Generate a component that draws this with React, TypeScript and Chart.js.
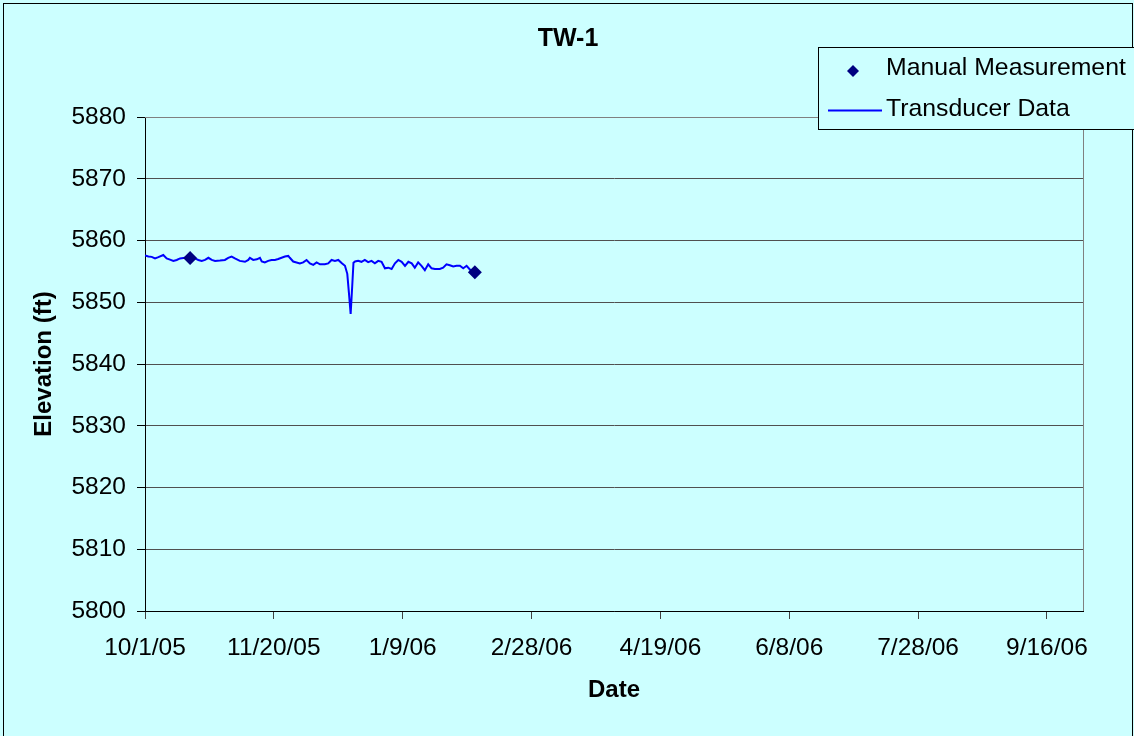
import React, { useEffect, useRef } from "react";
import { Chart, registerables } from "chart.js";

Chart.register(...registerables);

const chartTitle = "TW-1";
const yAxisTitle = "Elevation (ft)";
const xAxisTitle = "Date";
const manualLabel = "Manual Measurement";
const transducerLabel = "Transducer Data";

// x values are days since 10/1/05
const startDateUTC = Date.UTC(2005, 9, 1);
const xMin = 0;
const xMax = 364;
const xStep = 50;
const yMin = 5800;
const yMax = 5880;
const yStep = 10;

const transducerDays = [
  0, 1.3, 2.6, 3.9, 5.2, 7.1, 8.4, 9.7, 11, 12.3, 13.6, 15.5, 17.5, 19.4, 20.7, 22, 23.3, 24.6, 25.9, 27.2,
  29.1, 31, 32.3, 33.6, 34.9, 36.8, 38.8, 40.1, 40.7, 42, 43.4, 44.6, 45.3, 46.5, 47.8, 49.1, 50.4, 51.7, 53,
  54.3, 55.6, 56.2, 57.5, 58.8, 60.1, 61.4, 62.7, 64, 65.3, 66.6, 67.9, 69.8, 71.1, 72.4, 73.7, 75, 76.4, 77.6,
  78.5, 79.2, 79.8, 80.4, 80.9, 81.5, 82.7, 84, 85.3, 86.6, 87.9, 89.2, 90.5, 91.8, 93.1, 94.4, 95.7, 97, 98.3,
  99.6, 100.9, 102.2, 103.5, 104.7, 106, 107.3, 108.6, 109.9, 111.2, 112.5, 114.4, 115.7, 117, 118.3, 119.6,
  120.9, 122.2, 123.5, 124.8, 126.5,
];
const transducerElev = [
  5857.6, 5857.4, 5857.35, 5857.1, 5857.3, 5857.65, 5857.1, 5856.9, 5856.7, 5856.85, 5857.1, 5857.2, 5857.15,
  5857.1, 5856.85, 5856.7, 5856.85, 5857.2, 5856.85, 5856.7, 5856.75, 5856.85, 5857.2, 5857.4, 5857.1, 5856.7,
  5856.55, 5856.85, 5857.2, 5856.85, 5856.95, 5857.2, 5856.6, 5856.45, 5856.7, 5856.85, 5856.85, 5857.0, 5857.2,
  5857.4, 5857.5, 5857.2, 5856.6, 5856.45, 5856.3, 5856.45, 5856.85, 5856.3, 5856.05, 5856.45, 5856.15, 5856.15,
  5856.3, 5856.85, 5856.7, 5856.85, 5856.3, 5855.9, 5854.6, 5851.2, 5848.1, 5852.5, 5856.4, 5856.6, 5856.7,
  5856.55, 5856.85, 5856.5, 5856.7, 5856.3, 5856.7, 5856.55, 5855.5, 5855.6, 5855.4, 5856.3, 5856.85, 5856.55,
  5855.9, 5856.55, 5856.3, 5855.6, 5856.45, 5855.9, 5855.2, 5856.15, 5855.5, 5855.4, 5855.4, 5855.6, 5856.15,
  5856.0, 5855.8, 5855.9, 5855.9, 5855.5, 5855.9, 5855.1,
];

const manualDays = [17.5, 128];
const manualElev = [5857.15, 5854.85];

const FONT = '"Liberation Sans", Arial, sans-serif';
const BG = "#CCFFFF";

function formatDay(v: number): string {
  const d = new Date(startDateUTC + Math.round(v) * 86400000);
  return `${d.getUTCMonth() + 1}/${d.getUTCDate()}/${String(d.getUTCFullYear()).slice(2)}`;
}

const decorPlugin = {
  id: "decor",
  beforeDraw(chart: any) {
    const { ctx, width, height } = chart;
    ctx.save();
    ctx.fillStyle = BG;
    ctx.fillRect(0, 0, width, height);
    ctx.strokeStyle = "#000";
    ctx.lineWidth = 1;
    ctx.strokeRect(3.5, 3.5, 1129, height + 10);
    ctx.restore();
  },
  afterDraw(chart: any) {
    const { ctx, chartArea } = chart;
    ctx.save();
    // plot frame top/right
    ctx.strokeStyle = "#808080";
    ctx.lineWidth = 1;
    ctx.beginPath();
    ctx.moveTo(chartArea.left, Math.round(chartArea.top) + 0.5);
    ctx.lineTo(Math.round(chartArea.right) + 0.5, Math.round(chartArea.top) + 0.5);
    ctx.lineTo(Math.round(chartArea.right) + 0.5, chartArea.bottom);
    ctx.stroke();

    // title
    ctx.fillStyle = "#000";
    ctx.font = `bold 25px ${FONT}`;
    ctx.textAlign = "center";
    ctx.textBaseline = "middle";
    ctx.fillText(chartTitle, 568, 39);

    // legend
    ctx.fillStyle = BG;
    ctx.fillRect(818.5, 47.5, 330, 82);
    ctx.strokeStyle = "#000";
    ctx.strokeRect(818.5, 47.5, 330, 82);
    // diamond
    ctx.fillStyle = "#000080";
    ctx.beginPath();
    ctx.moveTo(853, 65);
    ctx.lineTo(859, 71);
    ctx.lineTo(853, 77);
    ctx.lineTo(847, 71);
    ctx.closePath();
    ctx.fill();
    // line
    ctx.strokeStyle = "#0000FF";
    ctx.lineWidth = 2;
    ctx.beginPath();
    ctx.moveTo(828, 110.5);
    ctx.lineTo(882, 110.5);
    ctx.stroke();
    ctx.fillStyle = "#000";
    ctx.font = `24.8px ${FONT}`;
    ctx.textAlign = "left";
    ctx.textBaseline = "middle";
    ctx.fillText(manualLabel, 886, 68);
    ctx.fillText(transducerLabel, 886, 109);
    ctx.restore();
  },
};

export default function App() {
  const ref = useRef<HTMLCanvasElement | null>(null);

  useEffect(() => {
    document.body.style.margin = "0";
    const canvas = ref.current;
    if (!canvas) return;
    const chart = new Chart(canvas, {
      type: "scatter",
      data: {
        datasets: [
          {
            label: manualLabel,
            data: manualDays.map((x, i) => ({ x, y: manualElev[i] })),
            pointStyle: "rectRot",
            pointRadius: 7,
            backgroundColor: "#000080",
            borderColor: "#000080",
            borderWidth: 0,
            showLine: false,
          },
          {
            label: transducerLabel,
            data: transducerDays.map((x, i) => ({ x, y: transducerElev[i] })),
            showLine: true,
            borderColor: "#0000FF",
            borderWidth: 2,
            pointRadius: 0,
            tension: 0,
            fill: false,
          },
        ],
      },
      options: {
        animation: false,
        responsive: false,
        maintainAspectRatio: false,
        layout: { padding: { top: 117, right: 51, left: 0, bottom: 0 } },
        plugins: {
          legend: { display: false },
          title: { display: false },
          tooltip: { enabled: false },
        },
        scales: {
          x: {
            type: "linear",
            min: xMin,
            max: xMax,
            afterFit: (s: any) => {
              s.height = 125;
            },
            ticks: {
              stepSize: xStep,
              includeBounds: false,
              autoSkip: false,
              maxRotation: 0,
              minRotation: 0,
              color: "#000",
              font: { family: FONT, size: 24.5 },
              padding: 15,
              callback: (v: any) => formatDay(Number(v)),
            },
            grid: {
              drawOnChartArea: false,
              drawTicks: true,
              tickLength: 8,
              tickColor: "#404040",
            },
            border: { color: "#000", width: 1 },
            title: {
              display: true,
              text: xAxisTitle,
              color: "#000",
              font: { family: FONT, size: 24, weight: "bold" },
              padding: { top: 0, bottom: 31 },
            },
          },
          y: {
            type: "linear",
            min: yMin,
            max: yMax,
            afterFit: (s: any) => {
              s.width = 145;
            },
            ticks: {
              stepSize: yStep,
              color: "#000",
              font: { family: FONT, size: 24.5 },
              padding: 11,
              callback: (v: any) => String(v),
            },
            grid: {
              color: "#505050",
              tickColor: "#000",
              tickLength: 8,
              drawTicks: true,
            },
            border: { color: "#000", width: 1 },
            title: {
              display: true,
              text: yAxisTitle,
              color: "#000",
              font: { family: FONT, size: 24, weight: "bold" },
              padding: { top: 30, bottom: 0 },
            },
          },
        },
      },
      plugins: [decorPlugin],
    } as any);
    return () => chart.destroy();
  }, []);

  return <canvas ref={ref} width={1134} height={736} style={{ display: "block", width: 1134, height: 736 }} />;
}
